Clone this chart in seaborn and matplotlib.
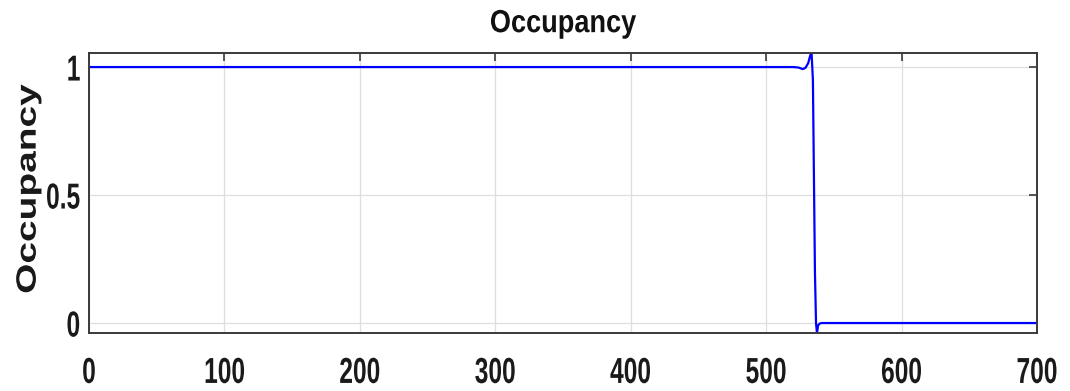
import matplotlib
matplotlib.use("Agg")
import matplotlib.pyplot as plt
import seaborn as sns
import pandas as pd
from matplotlib.patheffects import AbstractPathEffect
from matplotlib.transforms import Affine2D

# Occupancy trace over time
time = [0, 520, 524, 527, 529, 531, 532.5, 533.5, 534.5, 535.2, 536.0, 536.8,
        537.5, 538.3, 539.5, 541, 560, 700]
occupancy = [1.0, 1.0, 0.998, 0.992, 0.997, 1.015, 1.045, 1.055, 0.95, 0.6,
             0.2, 0.0, -0.04, -0.01, -0.002, 0.0, 0.0, 0.0]

x_ticks = [0, 100, 200, 300, 400, 500, 600, 700]
y_ticks = [0, 0.5, 1]
y_tick_labels = ["0", "0.5", "1"]


class Condensed(AbstractPathEffect):
    """Draw text glyphs narrowed horizontally about a chosen anchor."""

    def __init__(self, sx, anchor="center"):
        super().__init__()
        self.sx = sx
        self.anchor = anchor

    def draw_path(self, renderer, gc, tpath, affine, rgbFace=None):
        ext = tpath.get_extents(affine)
        if self.anchor == "right":
            cx = ext.x1
        elif self.anchor == "left":
            cx = ext.x0
        else:
            cx = 0.5 * (ext.x0 + ext.x1)
        squeeze = Affine2D().translate(-cx, 0).scale(self.sx, 1).translate(cx, 0)
        renderer.draw_path(gc, tpath, affine + squeeze, rgbFace)


sns.set_theme(style="whitegrid")
plt.rcParams["font.family"] = ["Liberation Sans", "DejaVu Sans"]

fig = plt.figure(figsize=(10.7, 3.91), dpi=100)
ax = fig.add_axes([0.0832, 0.1483, 0.886, 0.7162])

df = pd.DataFrame({"time": time, "occupancy": occupancy})
sns.lineplot(data=df, x="time", y="occupancy", ax=ax, color=(0, 0, 1),
             linewidth=1.6, estimator=None, sort=False)

ax.set_xlim(0, 700)
ax.set_ylim(-0.039, 1.055)
ax.set_xticks(x_ticks)
ax.set_xticklabels([str(t) for t in x_ticks], fontweight="bold", fontsize=26,
                   path_effects=[Condensed(0.68)])
ax.set_yticks(y_ticks)
ax.set_yticklabels(y_tick_labels, fontweight="bold", fontsize=26,
                   path_effects=[Condensed(0.68, "right")])

ax.grid(True, color="#dedede", linewidth=0.9)
ax.set_facecolor("white")
for side in ["left", "right", "top", "bottom"]:
    ax.spines[side].set_visible(True)
    ax.spines[side].set_color("#3a3a3a")
    ax.spines[side].set_linewidth(1.4)

ax.tick_params(axis="both", direction="in", length=6, width=1.2,
               color="#3a3a3a", top=True, right=True, labelcolor="#1a1a1a")
ax.tick_params(axis="x", pad=16.5)
ax.tick_params(axis="y", pad=6)

ax.set_xlabel("")
ax.set_ylabel("Occupancy", fontsize=28, fontweight="bold", color="#1a1a1a",
              path_effects=[Condensed(0.72)])
ax.yaxis.set_label_coords(-0.064, 0.514)
ax.yaxis.label.set_va("center")

ax.set_title("Occupancy", fontsize=23, fontweight="bold", color="#111111",
             pad=15, path_effects=[Condensed(0.85)])

fig.savefig("out.png", dpi=100, facecolor="white")
